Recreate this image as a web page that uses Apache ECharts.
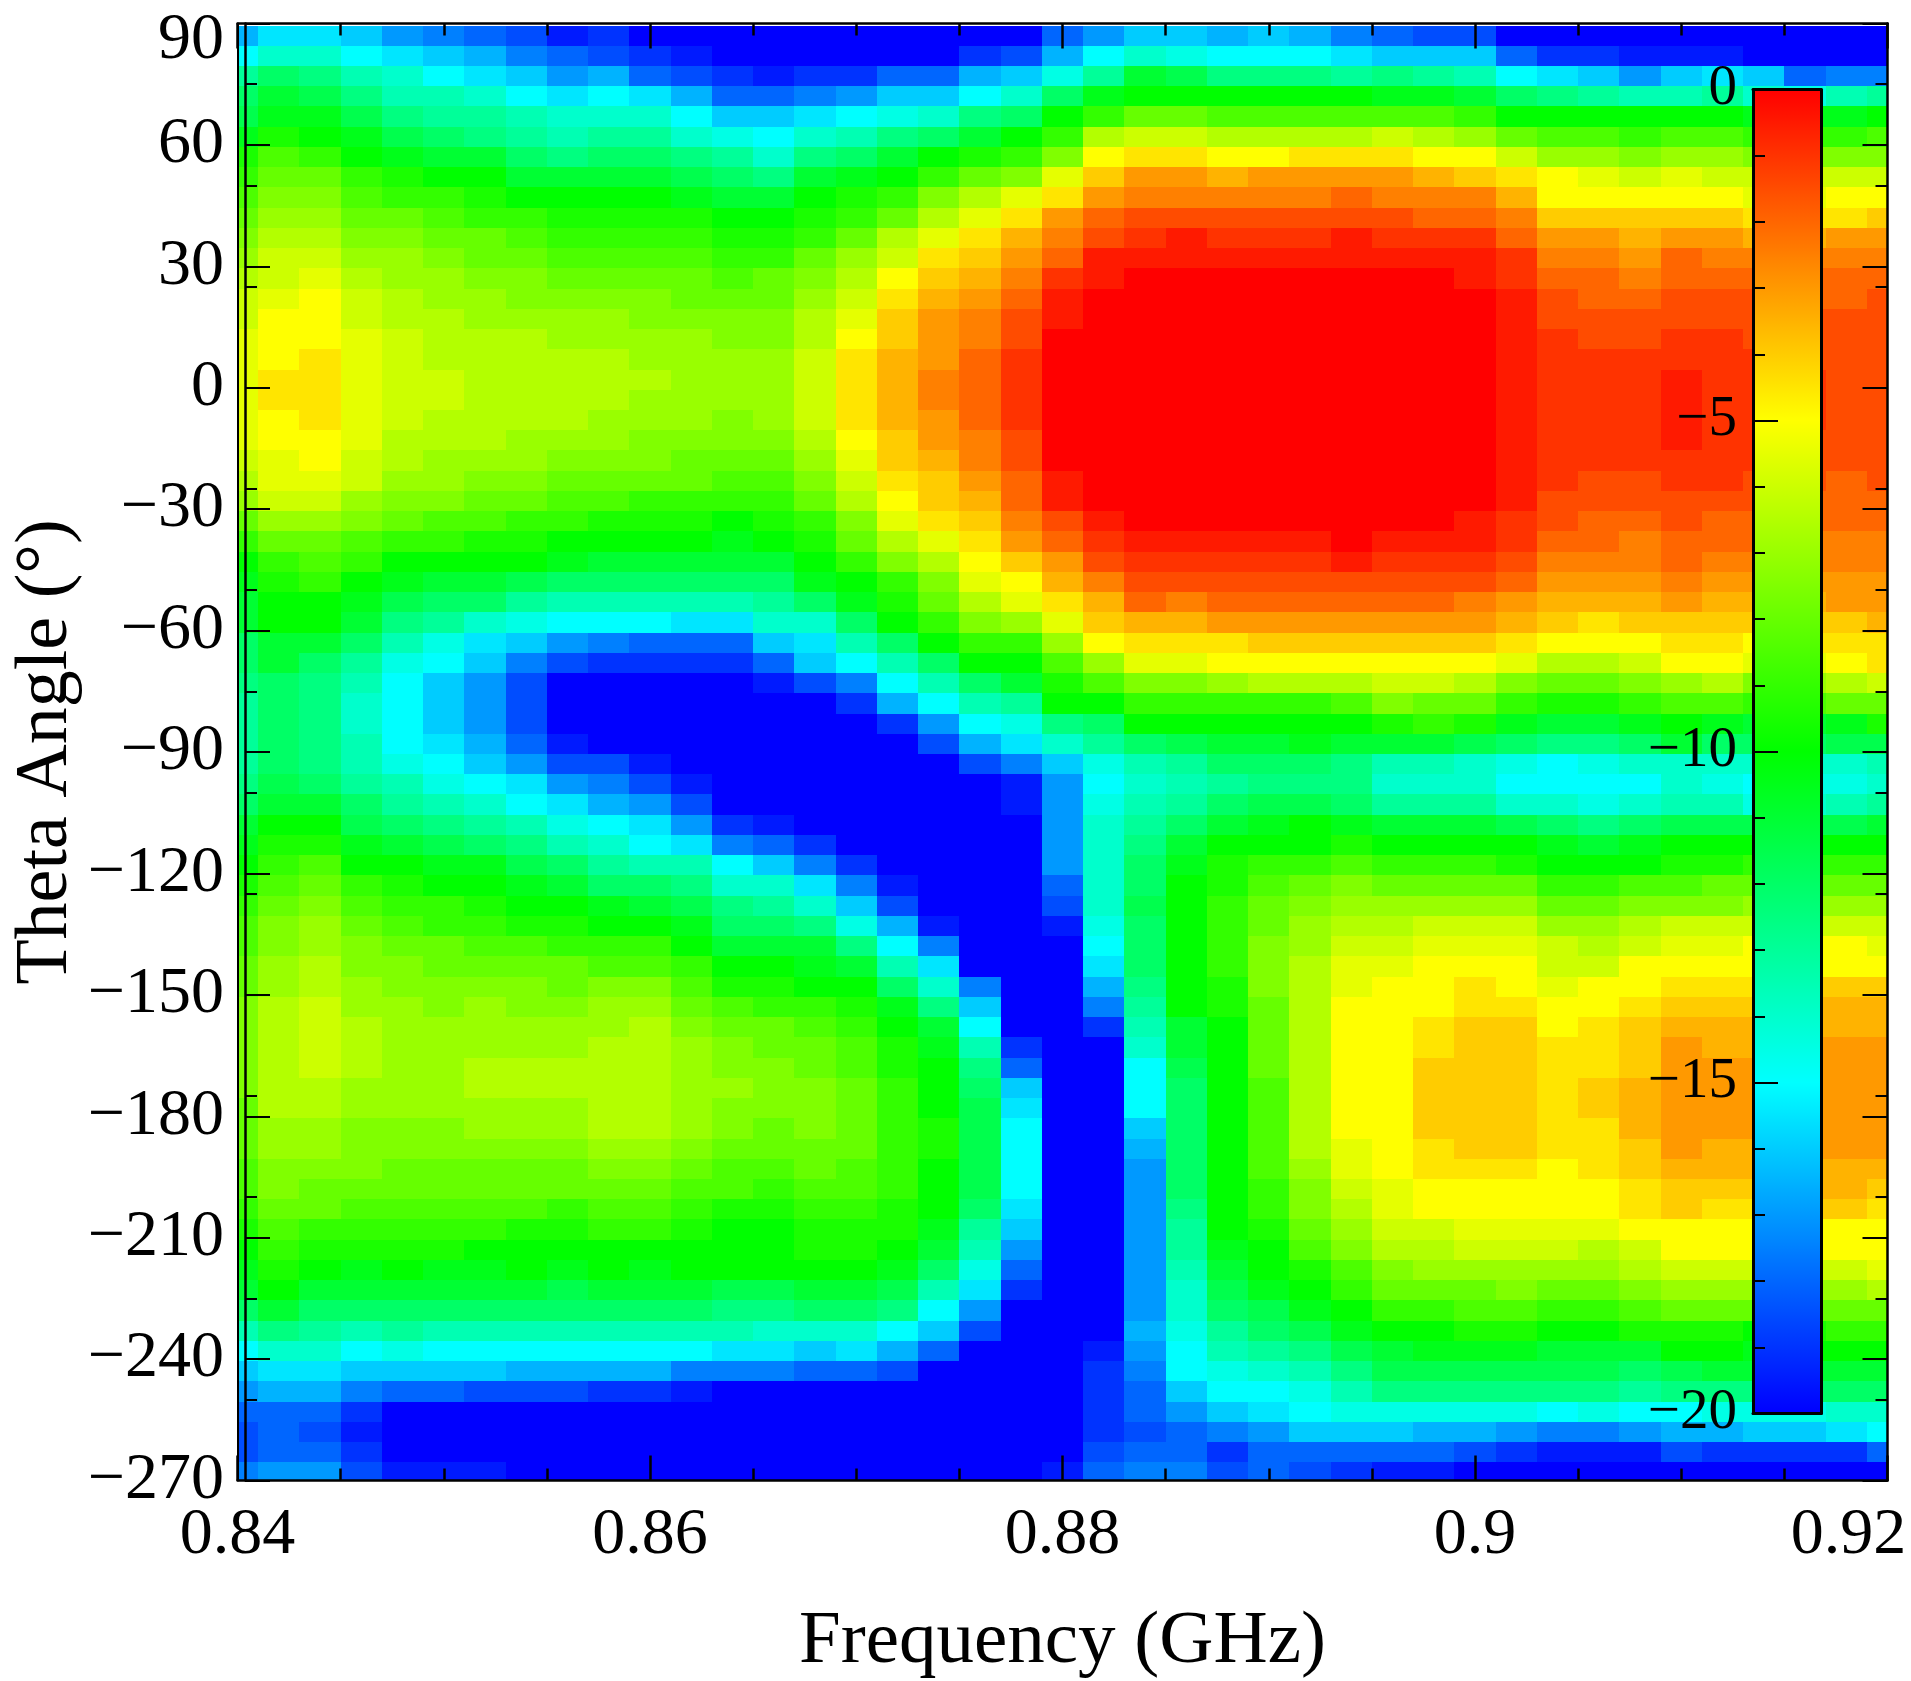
<!DOCTYPE html>
<html>
<head>
<meta charset="utf-8">
<style>html,body{margin:0;padding:0;background:#fff}#c{width:1911px;height:1681px}</style>
<script src="https://cdn.jsdelivr.net/npm/echarts@6/dist/echarts.min.js"></script>
</head>
<body>
<div id="c"></div>
<script>
const frequencies = [0.84,0.842,0.844,0.846,0.848,0.85,0.852,0.854,0.856,0.858,0.86,0.862,0.864,0.866,0.868,0.87,0.872,0.874,0.876,0.878,0.88,0.882,0.884,0.886,0.888,0.89,0.892,0.894,0.896,0.898,0.9,0.902,0.904,0.906,0.908,0.91,0.912,0.914,0.916,0.918,0.92];
const thetas = [87,82,77,72,67,62,57,52,47,42,37,32,27,22,17,12,7,2,-3,-8,-13,-18,-23,-28,-33,-38,-43,-48,-53,-58,-63,-68,-73,-78,-83,-88,-93,-98,-103,-108,-113,-118,-123,-128,-133,-138,-143,-148,-153,-158,-163,-168,-173,-178,-183,-188,-193,-198,-203,-208,-213,-218,-223,-228,-233,-238,-243,-248,-253,-258,-263,-268];
const thetaMinorTicks = [75,50,25,0,-25,-50,-75,-100,-125,-150,-175,-200,-225,-250];
// one list per frequency, top to bottom (dB)
const gainByFrequency = [
[-16.5,-15,-13,-12,-11.5,-10.5,-9.5,-9,-8.5,-8,-7.5,-7,-6.5,-6,-6,-5.5,-5.5,-5.5,-5.5,-5.5,-5.5,-6,-6.5,-7,-8,-9,-10,-10.5,-11,-11,-12,-12,-12.5,-13,-13,-13,-13,-12.5,-12,-11,-10.5,-10,-9.5,-9,-8.5,-8.5,-8,-8,-7.5,-7.5,-7.5,-7.5,-7.5,-8,-8,-8,-8.5,-8.5,-9,-9.5,-10,-10.5,-11,-12,-13.5,-15,-16,-17,-18,-18.5,-18.5,-17.5],
[-15.5,-14,-12,-11,-10.5,-9.5,-8.5,-8,-7.5,-7,-6.5,-6,-6,-5.5,-5,-5,-5,-4.5,-4.5,-5,-5,-5.5,-5.5,-6,-7,-8,-9,-9.5,-10,-10,-11,-11,-12,-12,-12,-12,-12,-11.5,-11,-10,-9.5,-9,-8.5,-8,-7.5,-7.5,-7,-7,-6.5,-6.5,-6.5,-6.5,-6.5,-6.5,-7,-7,-7.5,-7.5,-8,-8.5,-9,-9.5,-10,-11,-12.5,-14,-15.5,-16.5,-18,-18,-18,-17],
[-15.5,-14,-12.5,-11.5,-10.5,-10,-9,-8,-7.5,-7,-6.5,-6,-5.5,-5,-5,-5,-4.5,-4.5,-4.5,-4.5,-5,-5,-5.5,-6,-7,-8,-8.5,-9,-10,-10,-11,-12,-12.5,-12.5,-12.5,-12.5,-12.5,-12,-11,-10,-9.5,-8.5,-8,-7.5,-7,-7,-6.5,-6.5,-6,-6,-6,-6,-6.5,-6.5,-7,-7,-7.5,-8,-8,-9,-9.5,-10,-11,-12,-13,-14,-15.5,-16.5,-18,-18.5,-18,-17],
[-16,-15,-13.5,-12.5,-11.5,-10.5,-10,-9,-8.5,-8,-7.5,-7,-6.5,-6,-6,-5.5,-5.5,-5.5,-5.5,-5.5,-5.5,-6,-6,-7,-7.5,-8.5,-9,-10,-10.5,-11,-12,-13,-13.5,-14,-14,-13.5,-13.5,-13,-12,-11.5,-10.5,-10,-9,-8.5,-8,-7.5,-7.5,-7,-7,-6.5,-6.5,-6.5,-7,-7,-7.5,-7.5,-7.5,-8,-8.5,-9,-9.5,-10.5,-11,-12,-13.5,-15,-16,-17.5,-19,-19.5,-19,-18.5],
[-17,-15.5,-14,-13.5,-12.5,-11.5,-10.5,-9.5,-9,-8,-7.5,-7,-7,-6.5,-6.5,-6,-6,-6,-6,-6,-6.5,-6.5,-7,-7.5,-8,-9,-10,-10.5,-11.5,-12.5,-13.5,-14.5,-15,-15,-15,-15,-14.5,-13.5,-13,-12,-11,-10,-9.5,-9,-8.5,-8,-7.5,-7.5,-7,-7,-7,-7,-7,-7,-7.5,-7.5,-8,-8,-8.5,-9,-9.5,-10,-11,-12,-13,-14.5,-16,-18,-20,-20,-20,-19.5],
[-17.5,-16,-15,-13.5,-13,-12,-11,-10,-9,-8.5,-8,-7.5,-7,-7,-6.5,-6.5,-6.5,-6,-6,-6.5,-6.5,-7,-7,-7.5,-8.5,-9,-10,-11,-12,-13,-14.5,-15,-16,-16,-16,-15.5,-15,-14.5,-13.5,-12.5,-11.5,-10.5,-10,-9,-9,-8,-8,-7.5,-7.5,-7,-7,-7,-7,-7,-7.5,-7.5,-8,-8,-8.5,-9,-9.5,-10.5,-11,-12,-13.5,-15,-16,-18,-20,-20,-20,-19.5],
[-18,-16.5,-15.5,-14,-13,-12.5,-11,-10,-9.5,-9,-8,-8,-7.5,-7,-7,-6.5,-6.5,-6.5,-6.5,-6.5,-6.5,-7,-7.5,-8,-8.5,-9.5,-10,-11,-12,-14,-15.5,-16,-17,-17,-17,-16.5,-16,-15,-14,-13,-12,-10.5,-10,-9.5,-9,-8.5,-8,-7.5,-7,-7,-7,-6.5,-6.5,-7,-7,-7.5,-8,-8,-8.5,-9,-10,-10.5,-11,-12,-13.5,-15,-16,-18.5,-20,-20,-20,-19.5],
[-18.5,-17.5,-16,-15,-13.5,-13,-12,-11,-10,-9,-8.5,-8,-7.5,-7.5,-7,-6.5,-6.5,-6.5,-6.5,-6.5,-7,-7,-7.5,-8,-9,-9.5,-10,-11.5,-13,-14.5,-16,-17.5,-18.5,-18.5,-18.5,-18,-17,-15.5,-15,-13.5,-12.5,-11.5,-10.5,-10,-9.5,-8.5,-8,-7.5,-7.5,-7,-7,-6.5,-6.5,-7,-7,-7.5,-8,-8,-8.5,-9.5,-10,-10,-11,-12,-13.5,-15,-16.5,-18.5,-20,-20,-20,-20],
[-19.5,-18,-17,-15.5,-14,-13.5,-12.5,-11,-10,-9.5,-9,-8.5,-8,-7.5,-7,-7,-6.5,-6.5,-6.5,-6.5,-7,-7.5,-8,-8.5,-9,-10,-10.5,-12,-13.5,-15,-17,-18.5,-20,-20,-20,-19.5,-18.5,-17,-15.5,-14.5,-13.5,-12,-11,-10,-9.5,-9,-8,-8,-7.5,-7,-7,-6.5,-6.5,-7,-7,-7.5,-8,-8,-9,-9.5,-10,-10.5,-11.5,-12,-13.5,-15,-16.5,-18.5,-20,-20,-20,-20],
[-19,-18.5,-16.5,-15,-14,-13,-12,-11,-10,-9.5,-9,-8.5,-8,-7.5,-7,-7,-6.5,-6.5,-6.5,-7,-7,-7.5,-8,-8.5,-9.5,-10,-11,-12,-13.5,-15,-17.5,-19,-20,-20,-20,-20,-18.5,-17.5,-16.5,-15,-14,-13,-12,-10.5,-10,-9,-8.5,-7.5,-7,-7,-6.5,-6.5,-6.5,-6.5,-6.5,-7,-7.5,-8,-8.5,-9,-10,-10,-11,-12,-13.5,-15,-16.5,-19,-20,-20,-20,-20],
[-20,-19,-18,-15.5,-14,-13,-12,-11,-10,-9.5,-9,-8.5,-8,-7.5,-7.5,-7,-7,-6.5,-7,-7,-7.5,-7.5,-8,-9,-9.5,-10,-11,-12,-13.5,-15,-18,-19,-20,-20,-20,-20,-19.5,-18.5,-17,-15.5,-15,-13.5,-12,-11,-10,-9,-8.5,-7.5,-7,-6.5,-6.5,-6.5,-6.5,-6.5,-6.5,-7,-7.5,-8,-8.5,-9,-10,-10.5,-11,-12,-13.5,-15,-16.5,-19,-20,-20,-20,-20],
[-20,-19.5,-18.5,-16.5,-15,-14,-12.5,-11.5,-10.5,-9.5,-9,-8.5,-8,-8,-7.5,-7,-7,-7,-7,-7,-7.5,-8,-8,-9,-9.5,-10,-11,-12,-13.5,-15.5,-18,-19,-20,-20,-20,-20,-20,-19.5,-18.5,-17,-15.5,-13.5,-12.5,-11.5,-10.5,-10,-9,-8.5,-8,-7.5,-7,-7,-7,-7,-7,-7.5,-8,-8.5,-9,-9.5,-10,-10,-11,-12,-13.5,-15,-17.5,-19.5,-20,-20,-20,-20],
[-20,-20,-19,-18,-16,-14.5,-13,-12,-11,-10,-9.5,-9,-8.5,-8,-7.5,-7.5,-7,-7,-7,-7.5,-7.5,-8,-8.5,-9,-10,-10.5,-11,-12,-13.5,-15.5,-18,-19,-20,-20,-20,-20,-20,-20,-20,-19,-17.5,-15,-14,-12.5,-12,-11,-10,-9.5,-8.5,-8,-7.5,-7.5,-7,-7.5,-7.5,-8,-8.5,-8.5,-9.5,-10,-10,-10,-11.5,-12.5,-13.5,-15.5,-17.5,-20,-20,-20,-20,-20],
[-20,-20,-19.5,-18,-16,-15,-14,-12.5,-11,-10,-9.5,-9,-8,-8,-7.5,-7.5,-7,-7,-7,-7,-7.5,-8,-8.5,-9,-9.5,-10,-11,-12,-13,-14,-16,-18,-19.5,-20,-20,-20,-20,-20,-20,-19.5,-18,-16,-14,-13,-12,-11,-10,-9.5,-9,-8,-8,-7.5,-7.5,-7.5,-8,-8,-8.5,-9,-9.5,-10,-10,-10,-11.5,-12.5,-14,-15.5,-17.5,-20,-20,-20,-20,-20],
[-20,-20,-19,-17.5,-15.5,-14,-12.5,-11,-10,-9.5,-9,-8,-7.5,-7,-6.5,-6.5,-6,-6,-6,-6,-6.5,-7,-7.5,-8,-9,-9.5,-10,-10.5,-12,-14,-15.5,-16,-18.5,-20,-20,-20,-20,-20,-20,-20,-19,-17.5,-15.5,-14,-12.5,-11,-10.5,-10,-9,-8.5,-8,-8,-7.5,-7.5,-7.5,-8,-8,-8.5,-9,-9.5,-9.5,-10,-11,-12,-14,-16,-18,-20,-20,-20,-20,-20],
[-20,-20,-19,-17,-15,-13.5,-12,-10.5,-9.5,-9,-8,-7,-6.5,-6,-5.5,-5,-4.5,-4.5,-4.5,-4.5,-5,-5.5,-6,-6.5,-7.5,-8,-9,-10,-10.5,-12,-13.5,-15,-17.5,-19,-20,-20,-20,-20,-20,-20,-20,-19,-17.5,-16,-14.5,-12.5,-11,-10,-9.5,-9,-8.5,-8.5,-8,-8,-8,-8,-8.5,-8.5,-9,-9.5,-9.5,-10,-11,-12,-14,-15.5,-18,-20,-20,-20,-20,-20],
[-20,-20,-18,-16,-14.5,-12.5,-11,-10,-9,-8,-6.5,-6,-5,-4.5,-4,-4,-3.5,-3.5,-3.5,-3.5,-4,-4,-4.5,-5,-5.5,-6.5,-7.5,-9,-9.5,-10,-12,-13.5,-15,-16.5,-19,-20,-20,-20,-20,-20,-20,-20,-19.5,-18.5,-16.5,-15,-13.5,-12,-10.5,-10,-9.5,-9.5,-9,-9,-9,-9,-9,-9,-9.5,-9.5,-10,-10.5,-11.5,-12.5,-15,-16.5,-18.5,-20,-20,-20,-20,-20],
[-20,-20,-18,-16,-14,-12,-10,-9,-7.5,-6.5,-5.5,-4.5,-4,-3.5,-3,-3,-3,-2.5,-2.5,-3,-3,-3.5,-4,-4,-4.5,-5.5,-6.5,-7.5,-8,-9,-10,-12,-13.5,-15,-17,-18.5,-20,-20,-20,-20,-20,-20,-20,-20,-19.5,-17.5,-15.5,-14,-12.5,-11,-10.5,-10,-10,-10,-9.5,-9.5,-10,-10,-10,-10.5,-11,-12,-13.5,-15,-16,-18,-20,-20,-20,-20,-20,-20],
[-20,-19,-16.5,-15,-12.5,-11,-9.5,-8,-6.5,-5.5,-4.5,-4,-3.5,-3,-2.5,-2.5,-2,-2,-2,-2,-2.5,-2.5,-3,-3.5,-4,-4.5,-5,-5.5,-6.5,-7.5,-9,-10,-12,-13.5,-15,-16.5,-18.5,-20,-20,-20,-20,-20,-20,-20,-20,-20,-20,-17.5,-16,-15,-13.5,-12.5,-12,-11.5,-11.5,-11.5,-11.5,-11.5,-12,-13,-13.5,-14.5,-15.5,-17,-18.5,-20,-20,-20,-20,-20,-20,-20],
[-20,-18.5,-16,-14,-12,-10,-9,-7.5,-5.5,-4.5,-3.5,-3,-2.5,-2,-1.5,-1.5,-1,-1,-1,-1,-1.5,-1.5,-2,-2,-2.5,-3,-4,-5,-5.5,-7,-9,-10,-11,-13,-14.5,-15.5,-17.5,-19.5,-19.5,-20,-20,-20,-20,-20,-20,-20,-20,-20,-20,-20,-19,-18,-16,-15.5,-15,-15,-15,-15,-15.5,-16,-17,-18,-19,-20,-20,-20,-20,-20,-20,-20,-20,-20],
[-18,-16.5,-14.5,-12,-10,-9,-7.5,-5.5,-4.5,-3,-2.5,-2,-1,-0.5,-0.5,0,0,0,0,0,0,0,-0.5,-0.5,-1.5,-2,-3,-3.5,-4.5,-5.5,-7,-8.5,-9.5,-10,-12.5,-14,-16,-17,-17,-17,-17,-17,-18,-18.5,-19.5,-20,-20,-20,-20,-20,-20,-20,-20,-20,-20,-20,-20,-20,-20,-20,-20,-20,-20,-20,-20,-20,-20,-20,-20,-20,-20,-19.5],
[-17,-15,-13,-10.5,-9,-6.5,-5,-4,-3,-2,-1.5,-0.5,-0.5,0,0,0,0,0,0,0,0,0,0,0,-0.5,-1,-1.5,-2.5,-3.5,-4,-5,-7,-8.5,-10,-12,-13,-14.5,-15,-14.5,-14,-14,-14,-14,-14,-14.5,-15,-15.5,-16.5,-17.5,-19,-20,-20,-20,-20,-20,-20,-20,-20,-20,-20,-20,-20,-20,-20,-20,-19.5,-19,-19,-19,-19,-18.5,-18],
[-16,-14,-11,-10,-8,-6,-4.5,-3,-2.5,-1.5,-1,-0.5,0,0,0,0,0,0,0,0,0,0,0,0,0,-0.5,-1,-1.5,-2,-3.5,-4.5,-5.5,-7.5,-9,-10,-12,-13.5,-14,-13.5,-13,-12.5,-12,-12,-11.5,-12,-12,-12,-12.5,-13,-13.5,-14,-15,-15,-15,-16,-16.5,-17,-17,-17,-17,-17,-17,-17,-17,-16.5,-17,-17.5,-18,-18,-18.5,-18,-17.5],
[-16,-14.5,-11.5,-10,-8,-6,-4.5,-3,-2.5,-1.5,-0.5,-0.5,0,0,0,0,0,0,0,0,0,0,0,0,0,-0.5,-1,-1.5,-2.5,-3.5,-4.5,-5.5,-7.5,-9,-10,-11.5,-13,-13.5,-13,-12,-11,-10.5,-10,-10,-10,-10,-10,-10,-10,-11,-11,-11.5,-12,-12,-12,-12,-12,-12,-12.5,-13,-13,-13.5,-14,-14,-14.5,-15,-15,-16,-17,-18,-18,-17.5],
[-16.5,-15,-12.5,-10,-8.5,-6.5,-5,-3.5,-2.5,-1.5,-1,-0.5,0,0,0,0,0,0,0,0,0,0,0,0,0,-0.5,-1,-1.5,-2,-3,-4.5,-5,-7,-9,-10,-11,-12,-13,-12,-11,-10,-9.5,-9.5,-9,-9,-9,-9,-9.5,-9.5,-10,-10,-10,-10,-10,-10,-10,-10,-10,-10,-10,-10.5,-11,-11.5,-12,-13,-13.5,-14.5,-15,-16,-17.5,-19,-18.5],
[-16,-15,-12.5,-10,-8.5,-6.5,-5,-3,-2.5,-1.5,-1,-0.5,0,0,0,0,0,0,0,0,0,0,0,0,0,-0.5,-1,-1.5,-2,-3,-4,-5,-6.5,-9,-10,-11,-12,-12.5,-11.5,-10.5,-10,-9,-8.5,-8,-8,-7.5,-7.5,-7.5,-8,-8,-8,-8,-8.5,-8.5,-8.5,-8.5,-8.5,-9,-9,-9.5,-10,-10,-10.5,-11.5,-12,-13,-14,-15,-15.5,-17,-18,-18],
[-16.5,-15,-12.5,-10,-8.5,-6.5,-4.5,-3,-2.5,-1.5,-1,-0.5,0,0,0,0,0,0,0,0,0,0,0,0,0,-0.5,-1,-1.5,-2,-3,-4,-5,-6.5,-9,-10,-10.5,-12,-12.5,-11.5,-10,-10,-9,-8,-7.5,-7,-7,-6.5,-6.5,-6.5,-6.5,-6.5,-6.5,-6.5,-6.5,-6.5,-6.5,-7,-7.5,-7.5,-8,-8.5,-9.5,-10,-10.5,-11.5,-12.5,-13.5,-14.5,-15,-16,-18,-18.5],
[-17.5,-15.5,-13,-10,-8.5,-6.5,-4.5,-3,-2,-1.5,-0.5,-0.5,0,0,0,0,0,0,0,0,0,0,0,0,0,0,-0.5,-1.5,-2,-3,-4,-5,-6.5,-8.5,-10,-11,-12.5,-12.5,-12,-10.5,-9.5,-8.5,-7.5,-7,-6.5,-6,-5.5,-5.5,-5,-5,-5,-5,-5,-5,-5,-5.5,-5.5,-6,-6.5,-7,-7.5,-8.5,-9,-10,-10.5,-11.5,-12.5,-13.5,-14.5,-16,-18,-19],
[-18,-16,-12.5,-10.5,-8.5,-6,-4.5,-3,-2.5,-1.5,-1,-0.5,0,0,0,0,0,0,0,0,0,0,0,0,0,-0.5,-1,-1.5,-2,-3,-4,-5,-6,-7.5,-9.5,-11,-13.5,-14,-13,-11,-10,-9,-8,-7,-6.5,-6,-5.5,-5,-5,-5,-5,-5,-5,-5,-5,-5,-5,-5.5,-5.5,-6,-6.5,-7.5,-8,-9,-10,-11,-11.5,-12.5,-14.5,-16,-18,-19.5],
[-18.5,-16,-13,-10.5,-8.5,-6.5,-5,-3.5,-2.5,-2,-1,-0.5,0,0,0,0,0,0,0,0,0,0,0,0,0,-0.5,-1,-1.5,-2,-3,-4,-5,-6,-8,-9,-11,-13.5,-14,-13,-11,-10,-9,-8,-7,-6,-5.5,-5,-5,-5,-4.5,-4.5,-4,-4,-4,-4,-4.5,-4.5,-5,-5,-6,-6.5,-7,-8,-9,-10,-10.5,-11.5,-12.5,-14.5,-16.5,-18,-19.5],
[-18.5,-16,-13.5,-11,-9,-7,-5,-4,-2.5,-2,-1,-0.5,-0.5,0,0,0,0,0,0,0,0,0,0,0,-0.5,-0.5,-1,-1.5,-2.5,-3,-4,-5,-6.5,-8,-9.5,-11.5,-14,-14,-13,-11,-10,-9,-8,-7,-6,-5.5,-5,-4.5,-4.5,-4,-4,-4,-4,-4,-4,-4,-4.5,-5,-5,-5.5,-6,-7,-8,-8.5,-9.5,-10.5,-11.5,-12.5,-14.5,-16.5,-18.5,-20],
[-20,-18,-15,-12,-10,-8,-6,-4.5,-3.5,-2.5,-2,-1,-1,-0.5,-0.5,-0.5,-0.5,-0.5,-0.5,-0.5,-0.5,-0.5,-0.5,-0.5,-1,-1,-1.5,-2,-3,-3.5,-4.5,-5.5,-7.5,-9,-10.5,-12,-14.5,-15,-14,-11.5,-10,-9.5,-8,-7,-6,-5.5,-5,-5,-4.5,-4,-4,-4,-4,-4,-4,-4,-4.5,-5,-5,-5.5,-6,-7,-7.5,-8.5,-9.5,-10.5,-11.5,-12.5,-14.5,-17,-19,-20],
[-20,-19,-15.5,-12.5,-10,-8.5,-7,-5,-5,-4,-3,-2.5,-2,-1.5,-1.5,-1,-1,-1,-1,-1,-1,-1,-1,-1.5,-1.5,-2,-2.5,-3,-3.5,-4,-5,-6.5,-8,-9.5,-11,-12.5,-15,-15,-14,-12,-10.5,-10,-9,-8,-7,-6,-6,-5.5,-5,-5,-4.5,-4.5,-4.5,-4.5,-4.5,-4.5,-5,-5,-5,-5.5,-6,-7,-8,-9,-10,-11,-11.5,-12.5,-15,-17.5,-19.5,-20],
[-20,-19,-16,-13,-10,-8.5,-7,-5.5,-5,-4,-3,-2.5,-2,-2,-1.5,-1.5,-1,-1,-1,-1,-1,-1,-1.5,-1.5,-2,-2,-2.5,-3,-3.5,-4.5,-5,-6.5,-8,-9.5,-11,-12.5,-14.5,-15,-14.5,-12.5,-11,-10,-9,-8,-7,-6.5,-6,-5,-5,-4.5,-4.5,-4.5,-4,-4,-4.5,-4.5,-4.5,-5,-5,-5.5,-6.5,-7,-8,-9,-10,-11,-11.5,-12.5,-14.5,-17.5,-19.5,-20],
[-20,-19.5,-17,-13.5,-10,-9,-7.5,-6,-5,-4,-3.5,-3,-2.5,-2,-1.5,-1.5,-1,-1,-1,-1,-1,-1,-1.5,-1.5,-2,-2.5,-2.5,-3,-3.5,-4,-5,-6,-7.5,-9,-10.5,-12,-14,-15,-14,-12,-10.5,-10,-8.5,-7.5,-6.5,-6,-5,-5,-4.5,-4,-4,-4,-3.5,-3.5,-3.5,-4,-4,-4.5,-4.5,-5,-6,-6.5,-7.5,-8.5,-9.5,-11,-12,-13,-15,-17,-19.5,-20],
[-20,-19.5,-16,-13.5,-10,-8.5,-7,-5.5,-5,-4,-3,-2,-2,-1.5,-1.5,-1,-1,-0.5,-0.5,-0.5,-0.5,-1,-1,-1.5,-1.5,-2,-2,-2.5,-3,-4,-4.5,-5,-7,-8.5,-10,-11,-14,-14,-13.5,-11.5,-10,-9.5,-8.5,-7.5,-6,-5.5,-5,-4.5,-4,-3.5,-3,-3,-3,-3,-3,-3,-3.5,-4,-4,-5,-5,-6,-7,-8,-9.5,-10,-11.5,-12.5,-15,-16.5,-18.5,-20],
[-20,-19.5,-15.5,-13,-10,-8.5,-7,-6,-5,-4,-3,-2.5,-2,-1.5,-1.5,-1,-1,-1,-1,-1,-1,-1,-1,-1.5,-2,-2,-2.5,-3,-3.5,-4,-4.5,-5,-6.5,-8.5,-10.5,-12,-14,-14.5,-13.5,-11.5,-10,-9.5,-8,-7.5,-6,-5.5,-5,-4.5,-4,-3.5,-3.5,-3,-3,-3,-3,-3.5,-3.5,-4,-4.5,-5,-5,-6,-7,-8,-9.5,-10,-11,-12.5,-14.5,-16.5,-19,-20],
[-20,-20,-16,-14,-10.5,-9,-7.5,-6,-5.5,-4.5,-3.5,-2.5,-2,-1.5,-1.5,-1.5,-1,-1,-1,-1,-1,-1,-1.5,-1.5,-2,-2,-2.5,-3,-3.5,-4,-5,-5.5,-7.5,-9,-11,-12,-14,-15,-14.5,-11.5,-10,-9,-8,-7,-6,-5,-5,-4.5,-4,-3.5,-3.5,-3,-3,-3,-3,-3.5,-3.5,-4,-4.5,-5,-5,-6,-7,-8,-10,-10.5,-11,-12.5,-14.5,-16,-19,-20],
[-20,-20,-18,-14.5,-10.5,-9,-7.5,-6,-5.5,-4.5,-3.5,-2.5,-2,-2,-1.5,-1.5,-1.5,-1,-1,-1,-1.5,-1.5,-1.5,-2,-2,-2.5,-2.5,-3,-3.5,-4,-4.5,-5.5,-7,-8.5,-11,-12,-14,-14.5,-14,-11.5,-10,-9,-8,-7,-6,-5,-5,-4,-3.5,-3.5,-3,-3,-3,-3,-3,-3,-3.5,-3.5,-4,-5,-5,-6,-7,-8,-9.5,-10,-11,-12,-14.5,-16,-19,-20],
[-20,-20,-17.5,-13.5,-10.5,-9,-7.5,-6,-5,-4.5,-3,-2.5,-2,-2,-1.5,-1.5,-1.5,-1.5,-1.5,-1.5,-1.5,-1.5,-2,-2,-2,-2.5,-2.5,-3,-3,-4,-4.5,-5,-6.5,-8,-10.5,-11.5,-14,-14.5,-13.5,-11.5,-10,-9,-8,-7,-6,-5,-5,-4,-3.5,-3.5,-3,-3,-3,-3,-3,-3,-3.5,-3.5,-4,-5,-5,-6,-7,-8,-9,-10,-11,-12,-14,-15.5,-19,-20],
[-20,-20,-17.5,-13,-10,-8.5,-7.5,-6,-5,-4,-3,-2.5,-2,-1.5,-1.5,-1.5,-1.5,-1.5,-1.5,-1.5,-1.5,-1.5,-1.5,-2,-2,-2.5,-2.5,-3,-3,-3.5,-4.5,-4.5,-6,-8,-9.5,-11.5,-13.5,-14,-13,-11,-10,-9,-8,-7,-6,-5.5,-5,-4,-3.5,-3.5,-3,-3,-3,-3,-3,-3,-3.5,-4,-4.5,-5,-5,-5.5,-6.5,-8,-9,-10,-11,-12,-14,-15,-18,-20]
];
const colorStops = ['#0000ff','#00ffff','#00ff00','#ffff00','#ff0000'];

gainByFrequency.forEach((col, i) => { if (col.length !== thetas.length) throw new Error('column ' + i + ' has ' + col.length); });
if (gainByFrequency.length !== frequencies.length) throw new Error('columns ' + gainByFrequency.length);

const cells = [];
frequencies.forEach((f, i) => thetas.forEach((t, j) => cells.push([f, t, gainByFrequency[i][j]])));

const SERIF = 'Liberation Serif';
const BLACK = '#000';
const minus = v => v < 0 ? '\u2212' + Math.abs(v) : String(v);
const HALF_F = 0.001, HALF_T = 2.5;

function renderCell(params, api) {
  const f = api.value(0), t = api.value(1);
  const a = api.coord([f - HALF_F, t + HALF_T]);
  const b = api.coord([f + HALF_F, t - HALF_T]);
  const x0 = Math.round(a[0]), x1 = Math.round(b[0]), y0 = Math.round(a[1]), y1 = Math.round(b[1]);
  const shape = echarts.graphic.clipRectByRect(
    { x: x0, y: y0, width: x1 - x0, height: y1 - y0 },
    { x: params.coordSys.x, y: params.coordSys.y, width: params.coordSys.width, height: params.coordSys.height }
  );
  return shape && { type: 'rect', shape, style: { fill: api.visual('color') } };
}

const line = w => ({ show: true, onZero: false, lineStyle: { color: BLACK, width: w } });
const thetaAxisBase = { type: 'value', min: -270, max: 90, interval: 30, gridIndex: 0, z: 10, splitLine: { show: false } };

const option = {
  animation: false,
  backgroundColor: '#fff',
  grid: [
    { left: 237.5, top: 23.5, width: 1650, height: 1457, show: false, containLabel: false, outerBoundsMode: 'none' },
    { left: 1753, top: 89.5, width: 68, height: 1324, show: false, containLabel: false, outerBoundsMode: 'none' }
  ],
  visualMap: {
    type: 'continuous', seriesIndex: 0, dimension: 2, min: -20, max: 0,
    inRange: { color: colorStops }, calculable: false, hoverLink: false, text: null,
    left: 1753, top: 89.5, itemWidth: 68, itemHeight: 1324, padding: 0, z: 6
  },
  xAxis: [
    { type: 'value', gridIndex: 0, position: 'bottom', min: 0.84, max: 0.92, interval: 0.02, z: 10,
      name: 'Frequency (GHz)', nameLocation: 'middle', nameGap: 124,
      nameTextStyle: { fontFamily: SERIF, fontSize: 75, color: BLACK },
      axisLine: line(2.5),
      axisTick: { show: true, inside: true, length: 25, lineStyle: { color: BLACK, width: 2.5 } },
      minorTick: { show: true, splitNumber: 4, length: 12, lineStyle: { color: BLACK, width: 2.5 } },
      splitLine: { show: false }, minorSplitLine: { show: false },
      axisLabel: { margin: 22, fontFamily: SERIF, fontSize: 66, color: BLACK,
        formatter: v => Math.abs(v - 0.92) < 1e-9 ? '{last|0.92}' : String(+v.toFixed(2)),
        rich: { last: { fontFamily: SERIF, fontSize: 66, color: BLACK, padding: [0, 78, 0, 0] } } } },
    { type: 'value', gridIndex: 0, position: 'top', min: 0.84, max: 0.92, interval: 0.02, z: 10,
      axisLine: line(2.5),
      axisTick: { show: true, inside: true, length: 25, lineStyle: { color: BLACK, width: 2.5 } },
      minorTick: { show: true, splitNumber: 4, length: 12, lineStyle: { color: BLACK, width: 2.5 } },
      splitLine: { show: false }, minorSplitLine: { show: false }, axisLabel: { show: false } },
    { type: 'value', gridIndex: 1, position: 'top', min: 0, max: 1, z: 10, axisLine: line(3),
      axisTick: { show: false }, axisLabel: { show: false }, splitLine: { show: false } },
    { type: 'value', gridIndex: 1, position: 'bottom', min: 0, max: 1, z: 10, axisLine: line(3),
      axisTick: { show: false }, axisLabel: { show: false }, splitLine: { show: false } }
  ],
  yAxis: [
    Object.assign({}, thetaAxisBase, { position: 'left', offset: -7.5,
      name: 'Theta Angle (\u00b0)', nameLocation: 'middle', nameGap: 161, nameMoveOverlap: false,
      nameTextStyle: { fontFamily: SERIF, fontSize: 74, color: BLACK },
      axisLine: line(2.5),
      axisTick: { show: true, inside: true, length: 25, lineStyle: { color: BLACK, width: 2 } },
      axisLabel: { margin: 21, fontFamily: SERIF, fontSize: 66, color: BLACK,
        formatter: v => v === 90 ? '{top|90}' : minus(v),
        rich: { top: { fontFamily: SERIF, fontSize: 66, color: BLACK, padding: [34, 0, 0, 0] } } } }),
    Object.assign({}, thetaAxisBase, { position: 'right', axisLine: line(2.5),
      axisTick: { show: true, inside: true, length: 25, lineStyle: { color: BLACK, width: 2 } },
      axisLabel: { show: false } }),
    Object.assign({}, thetaAxisBase, { position: 'left', offset: -7.5, axisLine: { show: false },
      axisTick: { show: true, inside: true, length: 12, customValues: thetaMinorTicks, lineStyle: { color: BLACK, width: 2 } },
      axisLabel: { show: false } }),
    Object.assign({}, thetaAxisBase, { position: 'right', axisLine: { show: false },
      axisTick: { show: true, inside: true, length: 12, customValues: thetaMinorTicks, lineStyle: { color: BLACK, width: 2 } },
      axisLabel: { show: false } }),
    Object.assign({}, thetaAxisBase, { position: 'left', offset: 0, axisLine: line(2),
      axisTick: { show: false }, axisLabel: { show: false } }),
    { type: 'value', gridIndex: 1, position: 'left', min: -20, max: 0, interval: 5, z: 10,
      axisLine: line(3),
      axisTick: { show: true, inside: true, length: 25, lineStyle: { color: BLACK, width: 2 } },
      minorTick: { show: true, splitNumber: 5, length: 12, lineStyle: { color: BLACK, width: 2 } },
      splitLine: { show: false }, minorSplitLine: { show: false },
      axisLabel: { margin: 16, fontFamily: SERIF, fontSize: 57, color: BLACK, formatter: minus } },
    { type: 'value', gridIndex: 1, position: 'right', min: -20, max: 0, interval: 5, z: 10,
      axisLine: line(3), axisTick: { show: false }, axisLabel: { show: false }, splitLine: { show: false } }
  ],
  series: [{
    type: 'custom', coordinateSystem: 'cartesian2d', xAxisIndex: 0, yAxisIndex: 0,
    data: cells, encode: { x: 0, y: 1 }, renderItem: renderCell, progressive: 0, silent: true, clip: true
  }]
};

echarts.init(document.getElementById('c'), null, { renderer: 'canvas' }).setOption(option);
</script>
</body>
</html>
